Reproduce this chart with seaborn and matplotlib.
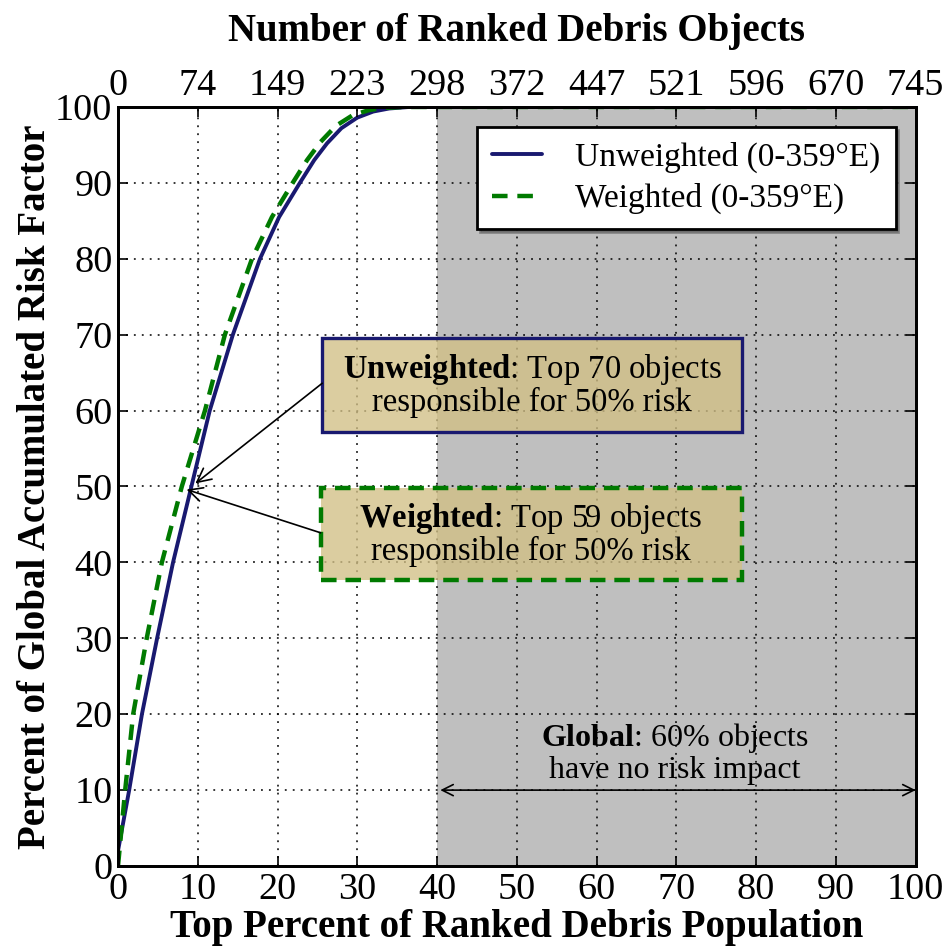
import numpy as np
import pandas as pd
import matplotlib
matplotlib.use("Agg")
import matplotlib.pyplot as plt
from matplotlib.patches import Rectangle
import seaborn as sns

# ---- data ----
unw_x = [0.0, 1.4, 3.0, 4.9, 6.9, 9.2, 11.5, 14.4, 17.8, 20.2, 22.8, 24.6, 26.2, 28.0, 30.0, 32.0, 34.0, 36.5, 40.0, 100.0]
unw_y = [2.0, 10.0, 20.0, 30.0, 40.0, 50.0, 60.0, 70.0, 80.0, 85.5, 90.0, 93.0, 95.2, 97.2, 98.6, 99.4, 99.8, 100.0, 100.0, 100.0]
wgt_x = [0.0, 0.9, 1.9, 3.6, 5.5, 8.0, 10.9, 13.4, 16.8, 19.3, 21.9, 23.7, 25.4, 27.3, 29.4, 31.5, 33.5, 36.0, 40.0, 100.0]
wgt_y = [0.0, 10.0, 20.0, 30.0, 40.0, 50.0, 60.0, 70.0, 80.0, 85.5, 90.0, 93.0, 95.4, 97.5, 98.9, 99.6, 99.9, 100.0, 100.0, 100.0]

x_ticks = [0, 10, 20, 30, 40, 50, 60, 70, 80, 90, 100]
y_ticks = [0, 10, 20, 30, 40, 50, 60, 70, 80, 90, 100]
top_tick_labels = ["0", "74", "149", "223", "298", "372", "447", "521", "596", "670", "745"]

series_labels = ["Unweighted (0-359°E)", "Weighted (0-359°E)"]
no_risk_span = [40, 100]

sns.set_style("ticks")
plt.rcParams["font.family"] = ["Liberation Serif", "DejaVu Serif"]
plt.rcParams["mathtext.fontset"] = "custom"
plt.rcParams["mathtext.rm"] = "Liberation Serif"
plt.rcParams["mathtext.bf"] = "Liberation Serif:bold"
plt.rcParams["xtick.direction"] = "in"
plt.rcParams["ytick.direction"] = "in"
for k in ["text.color", "axes.labelcolor", "xtick.color", "ytick.color", "axes.edgecolor"]:
    plt.rcParams[k] = "black"

fig = plt.figure(figsize=(9.44, 9.5), dpi=100)
ax = fig.add_axes([0.125, 0.0884, 0.845, 0.799])

df = pd.concat([
    pd.DataFrame({"x": unw_x, "y": unw_y, "s": series_labels[0]}),
    pd.DataFrame({"x": wgt_x, "y": wgt_y, "s": series_labels[1]}),
])

ax.axvspan(no_risk_span[0], no_risk_span[1], color="#bfbfbf", lw=0, zorder=0)

sns.lineplot(data=df[df.s == series_labels[0]], x="x", y="y", ax=ax, color="#191970",
             lw=2.8, label=series_labels[0], sort=False, zorder=3)
sns.lineplot(data=df[df.s == series_labels[1]], x="x", y="y", ax=ax, color="#007a00",
             lw=3.2, ls=(0, (3.5, 2.2)), label=series_labels[1], sort=False, zorder=3)

ax.set_xlim(0, 100)
ax.set_ylim(0, 100)
ax.set_xticks(x_ticks)
ax.set_yticks(y_ticks)
ax.tick_params(axis="both", which="major", labelsize=27.5, length=7, width=1.2,
               top=True, right=True)
ax.tick_params(axis="x", pad=5)
ax.tick_params(axis="y", pad=4)
ax.grid(True, ls=(0, (1.2, 4)), color="black", lw=1.1, zorder=1)
ax.set_axisbelow(False)
for sp in ax.spines.values():
    sp.set_linewidth(2)
    sp.set_zorder(5)

ax.set_xlabel("Top Percent of Ranked Debris Population", fontsize=28, fontweight="bold", labelpad=1)
ax.set_ylabel("Percent of Global Accumulated Risk Factor", fontsize=28, fontweight="bold", labelpad=1)

ax2 = ax.twiny()
ax2.set_xlim(ax.get_xlim())
ax2.set_xticks(x_ticks)
ax2.set_xticklabels(top_tick_labels)
ax2.tick_params(axis="x", labelsize=27.5, length=7, width=1.2, direction="in", pad=3)
ax2.set_xlabel("Number of Ranked Debris Objects", fontsize=28, fontweight="bold", labelpad=20)
for sp in ax2.spines.values():
    sp.set_linewidth(2)

leg = ax.legend(loc="upper right", fontsize=24, frameon=True, fancybox=False, shadow=True,
                borderaxespad=0.6, handlelength=1.5, handletextpad=1.0, borderpad=0.45,
                labelspacing=0.3)
leg.get_frame().set_edgecolor("black")
leg.get_frame().set_linewidth(2)
leg.set_zorder(10)

box_fc = (209/255, 191/255, 133/255, 0.78)
# annotation boxes (layout, in data units)
ax.add_patch(Rectangle((25.6, 57.2), 52.6, 12.4, fc=box_fc, ec="#191970", lw=2.4, zorder=6))
ax.add_patch(Rectangle((25.4, 37.7), 52.8, 12.1, fc=box_fc, ec="#007a00", lw=3.2,
                       ls=(0, (3.5, 2.0)), zorder=6))
ax.text(51.9, 63.4, "$\\mathbf{Unweighted}$: Top 70 objects\nresponsible for 50% risk",
        ha="center", va="center", fontsize=23.5, linespacing=1.0, zorder=7)
ax.text(51.8, 43.7, "$\\mathbf{Weighted}$: Top 59 objects\nresponsible for 50% risk",
        ha="center", va="center", fontsize=23.5, linespacing=1.0, zorder=7)
ax.annotate("", xy=(9.7, 50.4), xytext=(25.6, 63.6),
            arrowprops=dict(arrowstyle="->", color="black", lw=1.2, mutation_scale=25,
                            shrinkA=0, shrinkB=0), zorder=6)
ax.annotate("", xy=(8.6, 49.6), xytext=(25.4, 43.9),
            arrowprops=dict(arrowstyle="->", color="black", lw=1.2, mutation_scale=25,
                            shrinkA=0, shrinkB=0), zorder=6)

ax.annotate("", xy=(40.4, 10), xytext=(100, 10),
            arrowprops=dict(arrowstyle="<->", color="black", lw=1.2, mutation_scale=20,
                            shrinkA=0, shrinkB=0), zorder=6)
ax.text(69.8, 14.9, "$\\mathbf{Global}$: 60% objects\nhave no risk impact", ha="center",
        va="center", fontsize=23, linespacing=1.05, zorder=6)

fig.savefig("out.png", dpi=100)
